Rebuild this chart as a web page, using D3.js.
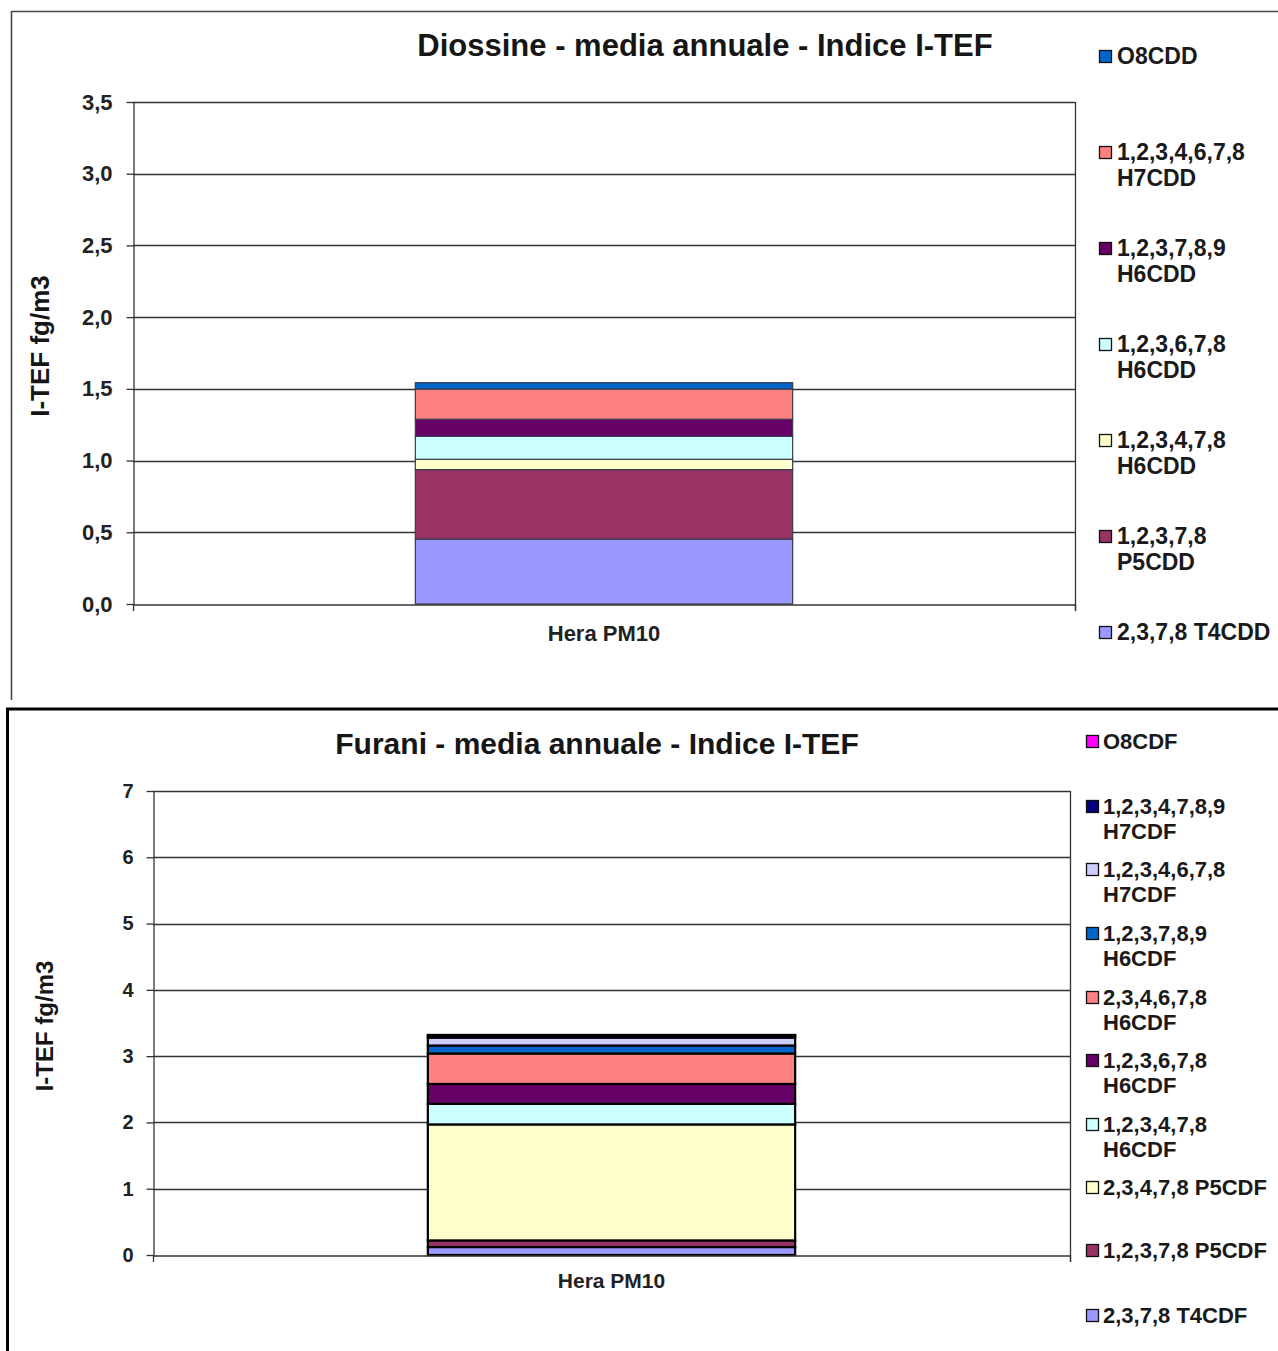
<!DOCTYPE html>
<html>
<head>
<meta charset="utf-8">
<script src="https://cdn.jsdelivr.net/npm/d3@7"></script>
<style>
  html, body { margin: 0; padding: 0; background: #fff; }
  svg { display: block; font-family: "Liberation Sans", Arial, sans-serif; }
</style>
</head>
<body>
<svg id="chart" width="1278" height="1351"></svg>
<script>
// Annual mean I-TEF for the Hera PM10 station, dioxins and furans (fg/m3)
const stations = ["Hera PM10"];

// Dioxin congeners, bottom of the stack first
const dioxinNames = [
  "2,3,7,8 T4CDD",
  "1,2,3,7,8 P5CDD",
  "1,2,3,4,7,8 H6CDD",
  "1,2,3,6,7,8 H6CDD",
  "1,2,3,7,8,9 H6CDD",
  "1,2,3,4,6,7,8 H7CDD",
  "O8CDD"
];
const dioxinValues = [0.453, 0.484, 0.072, 0.160, 0.119, 0.211, 0.044];
const dioxinColors = ["#9999FF", "#993366", "#FFFFCC", "#CCFFFF", "#660066", "#FF8080", "#0066CC"];
const dioxinTicks = [0, 0.5, 1, 1.5, 2, 2.5, 3, 3.5];

// Furan congeners, bottom of the stack first
const furanNames = [
  "2,3,7,8  T4CDF",
  "1,2,3,7,8 P5CDF",
  "2,3,4,7,8 P5CDF",
  "1,2,3,4,7,8 H6CDF",
  "1,2,3,6,7,8 H6CDF",
  "2,3,4,6,7,8 H6CDF",
  "1,2,3,7,8,9 H6CDF",
  "1,2,3,4,6,7,8 H7CDF",
  "1,2,3,4,7,8,9 H7CDF",
  "O8CDF"
];
const furanValues = [0.12, 0.10, 1.75, 0.31, 0.30, 0.46, 0.12, 0.12, 0.035, 0.005];
const furanColors = ["#9999FF", "#993366", "#FFFFCC", "#CCFFFF", "#660066", "#FF8080", "#0066CC", "#CCCCFF", "#000080", "#FF00FF"];
const furanTicks = [0, 1, 2, 3, 4, 5, 6, 7];

const itLocale = d3.formatLocale({ decimal: ",", thousands: ".", grouping: [3], currency: ["€", ""] });
const FONT = "'Liberation Sans', Arial, sans-serif";

const svg = d3.select("#chart");

// Outer frames of the two chart panels
svg.append("path")
  .attr("d", "M1278,11.5 H11.5 V700")
  .attr("fill", "none").attr("stroke", "#4a4a4a").attr("stroke-width", 1.6);
svg.append("path")
  .attr("d", "M1278,709 H7.5 V1351")
  .attr("fill", "none").attr("stroke", "#000").attr("stroke-width", 3);

function drawChart(cfg) {
  const g = svg.append("g");
  const x = d3.scaleBand().domain(stations).range([cfg.left, cfg.right]).padding(0.428);
  const y = d3.scaleLinear().domain([cfg.ticks[0], cfg.ticks[cfg.ticks.length - 1]]).range([cfg.bottom, cfg.top]);

  // Title
  g.append("text")
    .attr("x", cfg.titleX).attr("y", cfg.titleY)
    .attr("text-anchor", "middle")
    .attr("font-size", cfg.titleSize).attr("font-weight", "bold").attr("fill", "#161616")
    .text(cfg.title);

  // Gridlines
  g.append("g").selectAll("line")
    .data(cfg.ticks.slice(1))
    .join("line")
    .attr("x1", cfg.left).attr("x2", cfg.right)
    .attr("y1", d => Math.round(y(d)) + 0.5).attr("y2", d => Math.round(y(d)) + 0.5)
    .attr("stroke", "#333").attr("stroke-width", 1.3);

  // Right edge of the plot area
  g.append("line")
    .attr("x1", cfg.right + 0.5).attr("x2", cfg.right + 0.5)
    .attr("y1", y(cfg.ticks[cfg.ticks.length - 1])).attr("y2", cfg.bottom + 7)
    .attr("stroke", "#333").attr("stroke-width", 1.3);

  // Stacked bar
  const keys = cfg.names.map((_, i) => i);
  const row = {};
  keys.forEach(k => { row[k] = cfg.values[k]; });
  const stacked = d3.stack().keys(keys)([row]);
  g.append("g").selectAll("rect")
    .data(stacked)
    .join("rect")
    .attr("x", x(stations[0]))
    .attr("width", x.bandwidth())
    .attr("y", s => y(s[0][1]))
    .attr("height", s => Math.max(0, y(s[0][0]) - y(s[0][1])))
    .attr("fill", s => cfg.colors[s.key])
    .attr("stroke", cfg.barStroke)
    .attr("stroke-width", cfg.barStrokeWidth);

  // Y axis
  const yAxis = d3.axisLeft(y)
    .tickValues(cfg.ticks)
    .tickFormat(itLocale.format(cfg.fmt))
    .tickSize(7).tickSizeOuter(0).tickPadding(cfg.tickPad);
  const ya = g.append("g").attr("transform", `translate(${cfg.left + 0.5},0)`).call(yAxis);
  ya.select(".domain").attr("stroke", "#333").attr("stroke-width", 1.3);
  ya.selectAll(".tick line").attr("stroke", "#333").attr("stroke-width", 1.3);
  ya.selectAll("text")
    .attr("font-size", cfg.tickSize).attr("font-weight", "bold").attr("fill", "#222")
    .attr("font-family", FONT);

  // X axis
  const xAxis = d3.axisBottom(x).tickSize(0).tickPadding(cfg.xPad);
  const xa = g.append("g").attr("transform", `translate(0,${cfg.bottom + 0.5})`).call(xAxis);
  xa.select(".domain").attr("stroke", "#333").attr("stroke-width", 1.3);
  xa.selectAll("text")
    .attr("font-size", cfg.xSize).attr("font-weight", "bold").attr("fill", "#222")
    .attr("font-family", FONT);
  // Category boundary ticks at both ends
  g.append("g").selectAll("line")
    .data([cfg.left, cfg.right])
    .join("line")
    .attr("x1", d => d + 0.5).attr("x2", d => d + 0.5)
    .attr("y1", cfg.bottom).attr("y2", cfg.bottom + 7)
    .attr("stroke", "#333").attr("stroke-width", 1.3);

  // Y axis title
  g.append("text")
    .attr("transform", `translate(${cfg.yLabelX},${cfg.yLabelY}) rotate(-90)`)
    .attr("text-anchor", "middle")
    .attr("font-size", cfg.yLabelSize).attr("font-weight", "bold").attr("fill", "#161616")
    .text("I-TEF fg/m3");

  // Legend, top entry = top of the stack
  const legend = g.append("g");
  const order = keys.slice().reverse();
  order.forEach((k, i) => {
    const item = cfg.legendItems[i];
    const lg = legend.append("g").attr("transform", `translate(${cfg.legendX},${item.y})`);
    lg.append("rect")
      .attr("x", 0.5).attr("y", -13.5).attr("width", 12).attr("height", 12)
      .attr("fill", cfg.colors[k]).attr("stroke", "#111").attr("stroke-width", 1.3);
    const t = lg.append("text")
      .attr("x", cfg.legendTextX).attr("y", 0)
      .attr("font-size", cfg.legendSize).attr("font-weight", "bold").attr("fill", "#1a1a1a");
    item.lines.forEach((ln, j) => {
      t.append("tspan").attr("x", cfg.legendTextX).attr("dy", j === 0 ? 0 : cfg.legendLine).text(ln);
    });
  });
}

drawChart({
  title: "Diossine - media annuale - Indice I-TEF",
  titleX: 705, titleY: 56, titleSize: 31,
  left: 133, right: 1075, top: 102, bottom: 604,
  ticks: dioxinTicks, fmt: ".1f", tickSize: 22, tickPad: 14,
  xSize: 22, xPad: 21,
  names: dioxinNames, values: dioxinValues, colors: dioxinColors,
  barStroke: "#3a3a4a", barStrokeWidth: 1.2,
  yLabelX: 49, yLabelY: 346, yLabelSize: 26,
  legendX: 1099, legendTextX: 18, legendSize: 23, legendLine: 26,
  legendItems: [
    { y: 64, lines: ["O8CDD"] },
    { y: 160, lines: ["1,2,3,4,6,7,8", "H7CDD"] },
    { y: 256, lines: ["1,2,3,7,8,9", "H6CDD"] },
    { y: 352, lines: ["1,2,3,6,7,8", "H6CDD"] },
    { y: 448, lines: ["1,2,3,4,7,8", "H6CDD"] },
    { y: 544, lines: ["1,2,3,7,8", "P5CDD"] },
    { y: 640, lines: ["2,3,7,8 T4CDD"] }
  ]
});

drawChart({
  title: "Furani - media annuale - Indice I-TEF",
  titleX: 597, titleY: 754, titleSize: 30,
  left: 153, right: 1070, top: 791, bottom: 1255,
  ticks: furanTicks, fmt: "d", tickSize: 20, tickPad: 13,
  xSize: 21, xPad: 18,
  names: furanNames, values: furanValues, colors: furanColors,
  barStroke: "#000", barStrokeWidth: 2.2,
  yLabelX: 53, yLabelY: 1026, yLabelSize: 24,
  legendX: 1086, legendTextX: 17, legendSize: 22, legendLine: 25,
  legendItems: [
    { y: 749, lines: ["O8CDF"] },
    { y: 814, lines: ["1,2,3,4,7,8,9", "H7CDF"] },
    { y: 877, lines: ["1,2,3,4,6,7,8", "H7CDF"] },
    { y: 941, lines: ["1,2,3,7,8,9", "H6CDF"] },
    { y: 1005, lines: ["2,3,4,6,7,8", "H6CDF"] },
    { y: 1068, lines: ["1,2,3,6,7,8", "H6CDF"] },
    { y: 1132, lines: ["1,2,3,4,7,8", "H6CDF"] },
    { y: 1195, lines: ["2,3,4,7,8 P5CDF"] },
    { y: 1258, lines: ["1,2,3,7,8 P5CDF"] },
    { y: 1323, lines: ["2,3,7,8  T4CDF"] }
  ]
});
</script>
</body>
</html>
